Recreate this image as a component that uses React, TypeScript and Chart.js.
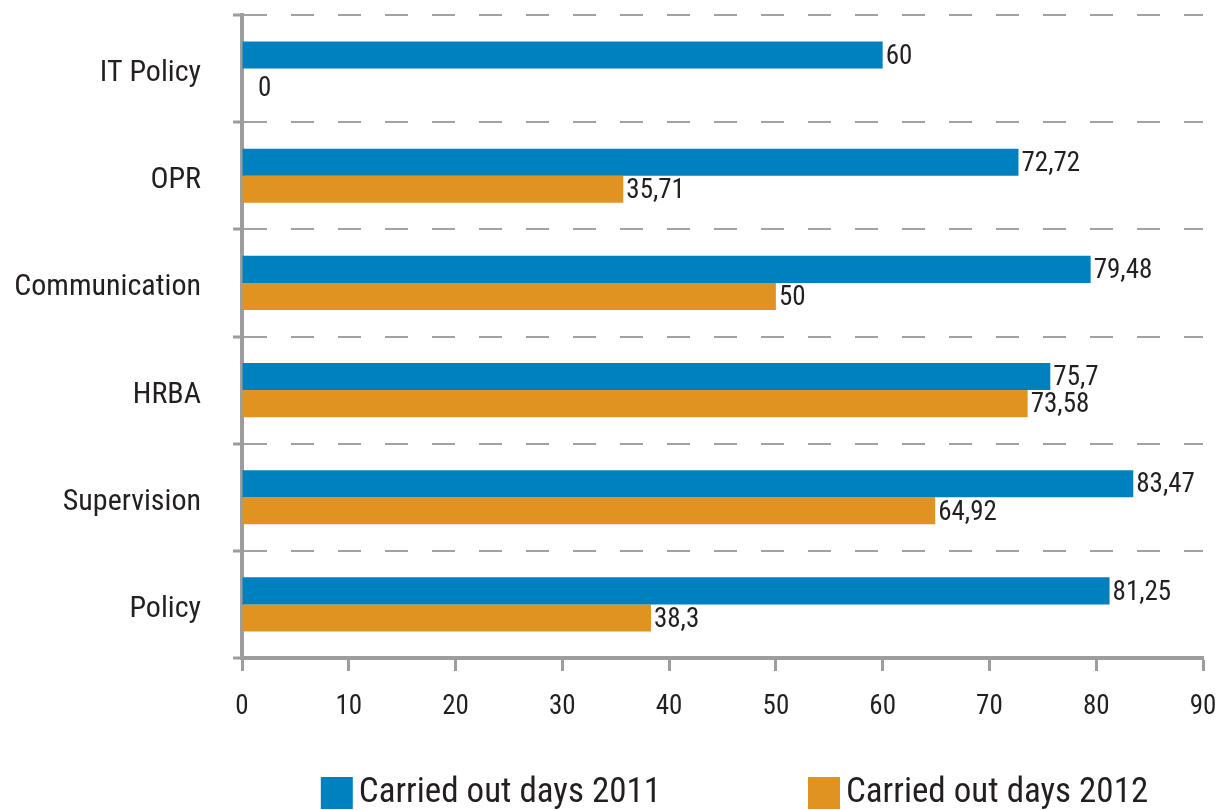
import React, { useEffect, useRef } from "react";
import { Chart, registerables } from "chart.js";

Chart.register(...registerables);

const categories = ["IT Policy", "OPR", "Communication", "HRBA", "Supervision", "Policy"];
const days2011 = [60, 72.72, 79.48, 75.7, 83.47, 81.25];
const days2012 = [0, 35.71, 50, 73.58, 64.92, 38.3];
const seriesLabels = ["Carried out days 2011", "Carried out days 2012"];
const seriesColors = ["#0081BF", "#E09321"];
const xMin = 0;
const xMax = 90;
const xStep = 10;

const FONT = '"Roboto Condensed", "Liberation Sans Narrow", sans-serif';
const TEXT = "#231F20";
const AXIS = "#9D9D9F";

const fmt = (v: number) => String(v).replace(".", ",");

const valueLabels = {
  id: "valueLabels",
  afterDatasetsDraw(chart: any) {
    const ctx = chart.ctx;
    ctx.save();
    ctx.font = `27px ${FONT}`;
    ctx.fillStyle = TEXT;
    ctx.textAlign = "left";
    ctx.textBaseline = "middle";
    chart.data.datasets.forEach((ds: any, di: number) => {
      const meta = chart.getDatasetMeta(di);
      meta.data.forEach((el: any, i: number) => {
        const v = ds.data[i] as number;
        const dx = v === 0 ? 16 : 3;
        const dy = v === 0 ? 7 : 2;
        ctx.fillText(fmt(v), el.x + dx, el.y + dy);
      });
    });
    ctx.restore();
  },
};

const bottomLegend = {
  id: "bottomLegend",
  afterDraw(chart: any) {
    const ctx = chart.ctx;
    const ca = chart.chartArea;
    ctx.save();
    ctx.font = `35px ${FONT}`;
    ctx.textBaseline = "alphabetic";
    ctx.textAlign = "left";
    const box = 32;
    const textGap = 6;
    const itemGap = 147;
    const widths = seriesLabels.map((l) => ctx.measureText(l).width);
    const total = widths.reduce((a, w) => a + box + textGap + w, 0) + itemGap * (seriesLabels.length - 1);
    let x = (ca.left + ca.right) / 2 - total / 2 + 12;
    const boxTop = chart.height - 33;
    const baseline = chart.height - 8;
    seriesLabels.forEach((l, i) => {
      ctx.fillStyle = seriesColors[i];
      ctx.fillRect(x, boxTop, box, box);
      ctx.fillStyle = TEXT;
      ctx.fillText(l, x + box + textGap, baseline);
      x += box + textGap + widths[i] + itemGap;
    });
    ctx.restore();
  },
};

export default function App() {
  const ref = useRef<HTMLCanvasElement>(null);
  useEffect(() => {
    document.body.style.margin = "0";
    const chart = new Chart(ref.current!, {
      type: "bar",
      data: {
        labels: categories,
        datasets: [
          { label: seriesLabels[0], data: days2011, backgroundColor: seriesColors[0], borderWidth: 0 },
          { label: seriesLabels[1], data: days2012, backgroundColor: seriesColors[1], borderWidth: 0 },
        ],
      },
      options: {
        indexAxis: "y",
        responsive: false,
        animation: false,
        devicePixelRatio: 1,
        datasets: { bar: { barPercentage: 1, categoryPercentage: 0.505 } },
        layout: { padding: { top: 15, right: 28, left: 0, bottom: 0 } },
        plugins: { legend: { display: false }, tooltip: { enabled: false } },
        scales: {
          x: {
            type: "linear",
            min: xMin,
            max: xMax,
            ticks: { stepSize: xStep, color: TEXT, font: { family: FONT, size: 27 }, padding: 20 },
            grid: { drawOnChartArea: false, drawTicks: true, tickLength: 13, tickColor: AXIS, tickWidth: 3 },
            border: { display: true, color: AXIS, width: 4 },
            afterFit: (s: any) => { s.height = 152; s.paddingLeft = 0; s.paddingRight = 0; },
          },
          y: {
            type: "category",
            ticks: { color: TEXT, font: { family: FONT, size: 30 }, padding: 32, labelOffset: 5 },
            grid: {
              offset: true,
              drawOnChartArea: true,
              drawTicks: true,
              tickLength: 9,
              color: "#A2A2A4",
              lineWidth: 2,
              tickColor: AXIS,
              tickWidth: 3,
              tickBorderDash: [],
            },
            border: { display: true, color: AXIS, width: 4, dash: [23, 24] },
            afterFit: (s: any) => { s.width = 242; s.paddingTop = 0; s.paddingBottom = 0; },
          },
        },
      },
      plugins: [valueLabels, bottomLegend],
    } as any);
    return () => chart.destroy();
  }, []);
  return (
    <div style={{ width: 1231, height: 810, background: "#fff" }}>
      <canvas ref={ref} width={1231} height={810} style={{ display: "block" }} />
    </div>
  );
}
